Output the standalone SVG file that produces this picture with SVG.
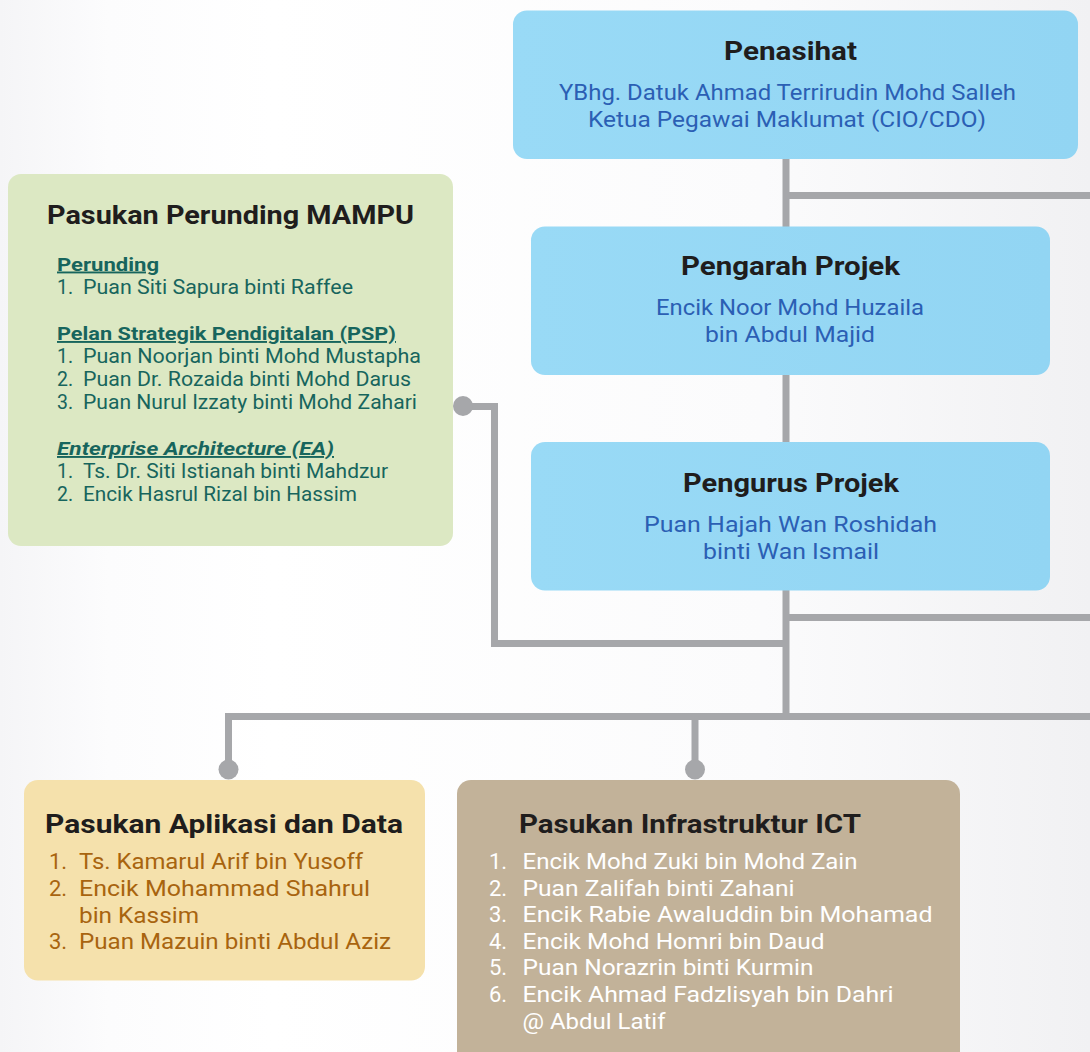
<svg xmlns="http://www.w3.org/2000/svg" width="1090" height="1052" viewBox="0 0 1090 1052">
  <defs>
    <linearGradient id="bg" x1="0" y1="0" x2="1" y2="0">
      <stop offset="0" stop-color="#f5f5f7"/>
      <stop offset="0.1" stop-color="#fcfcfd"/>
      <stop offset="0.25" stop-color="#ffffff"/>
      <stop offset="0.7" stop-color="#fbfbfc"/>
      <stop offset="1" stop-color="#f1f1f3"/>
    </linearGradient>
    <linearGradient id="blue" x1="0" y1="0" x2="1" y2="0">
      <stop offset="0" stop-color="#99daf6"/>
      <stop offset="1" stop-color="#92d5f3"/>
    </linearGradient>
  </defs>
  <style>
    text { font-family: Roboto, "Open Sans", "Liberation Sans", sans-serif; }
    .title { font-size: 26px; font-weight: 700; fill: #1f1d1d; }
    .blueTxt { font-size: 22px; fill: #2b5fb4; }
    .gHead { font-size: 19px; font-weight: 700; fill: #17655d; text-decoration: underline; }
    .gItem { font-size: 19.5px; fill: #17655d; }
    .yItem { font-size: 22px; fill: #a8640f; }
    .bItem { font-size: 22px; fill: #ffffff; }
    .conn { fill: none; stroke: #a6a7aa; stroke-width: 7; }
    .dot { fill: #a6a7aa; }
  </style>
  <rect x="0" y="0" width="1090" height="1052" fill="url(#bg)"/>

  <g id="connectors">
    <path class="conn" d="M786 158 V716"/>
    <path class="conn" d="M786 195.5 H1090"/>
    <path class="conn" d="M786 617.5 H1090"/>
    <path class="conn" d="M463 406.5 H494.5 V643.5 H786"/>
    <path class="conn" d="M228.5 769 V716.5 H1090"/>
    <path class="conn" d="M695 716.5 V769"/>
    <circle class="dot" cx="463" cy="406" r="10"/>
    <circle class="dot" cx="228.5" cy="769.5" r="10"/>
    <circle class="dot" cx="695" cy="769.5" r="10"/>
  </g>

  <g id="penasihat">
    <rect x="513" y="10.5" width="565" height="148.5" rx="14" fill="url(#blue)"/>
    <text class="title" x="724" y="60" textLength="133" lengthAdjust="spacingAndGlyphs">Penasihat</text>
    <text class="blueTxt" x="559" y="99.5" textLength="457" lengthAdjust="spacingAndGlyphs">YBhg. Datuk Ahmad Terrirudin Mohd Salleh</text>
    <text class="blueTxt" x="588" y="126.5" textLength="398" lengthAdjust="spacingAndGlyphs">Ketua Pegawai Maklumat (CIO/CDO)</text>
  </g>

  <g id="pengarah">
    <rect x="531" y="226.5" width="519" height="148.5" rx="14" fill="url(#blue)"/>
    <text class="title" x="681" y="275" textLength="219" lengthAdjust="spacingAndGlyphs">Pengarah Projek</text>
    <text class="blueTxt" x="656" y="315" textLength="268" lengthAdjust="spacingAndGlyphs">Encik Noor Mohd Huzaila</text>
    <text class="blueTxt" x="705" y="341.5" textLength="170" lengthAdjust="spacingAndGlyphs">bin Abdul Majid</text>
  </g>

  <g id="pengurus">
    <rect x="531" y="442" width="519" height="148.5" rx="14" fill="url(#blue)"/>
    <text class="title" x="683" y="491.5" textLength="216" lengthAdjust="spacingAndGlyphs">Pengurus Projek</text>
    <text class="blueTxt" x="644" y="532" textLength="293" lengthAdjust="spacingAndGlyphs">Puan Hajah Wan Roshidah</text>
    <text class="blueTxt" x="703" y="558.5" textLength="176" lengthAdjust="spacingAndGlyphs">binti Wan Ismail</text>
  </g>

  <g id="perunding">
    <rect x="8" y="174" width="445" height="372" rx="13" fill="#dce8c3"/>
    <text class="title" x="47" y="224" textLength="367" lengthAdjust="spacingAndGlyphs">Pasukan Perunding MAMPU</text>
    <text class="gHead" x="57" y="270.5" textLength="102" lengthAdjust="spacingAndGlyphs">Perunding</text>
    <text class="gItem" x="57" y="294">1.</text>
    <text class="gItem" x="83" y="294" textLength="270" lengthAdjust="spacingAndGlyphs">Puan Siti Sapura binti Raffee</text>
    <text class="gHead" x="57" y="340" textLength="339" lengthAdjust="spacingAndGlyphs">Pelan Strategik Pendigitalan (PSP)</text>
    <text class="gItem" x="57" y="363">1.</text>
    <text class="gItem" x="83" y="363" textLength="338" lengthAdjust="spacingAndGlyphs">Puan Noorjan binti Mohd Mustapha</text>
    <text class="gItem" x="57" y="386">2.</text>
    <text class="gItem" x="83" y="386" textLength="328" lengthAdjust="spacingAndGlyphs">Puan Dr. Rozaida binti Mohd Darus</text>
    <text class="gItem" x="57" y="409">3.</text>
    <text class="gItem" x="83" y="409" textLength="334" lengthAdjust="spacingAndGlyphs">Puan Nurul Izzaty binti Mohd Zahari</text>
    <text class="gHead" x="57" y="455" font-style="italic" textLength="277" lengthAdjust="spacingAndGlyphs">Enterprise Architecture (EA)</text>
    <text class="gItem" x="57" y="478">1.</text>
    <text class="gItem" x="83" y="478" textLength="305" lengthAdjust="spacingAndGlyphs">Ts. Dr. Siti Istianah binti Mahdzur</text>
    <text class="gItem" x="57" y="501">2.</text>
    <text class="gItem" x="83" y="501" textLength="274" lengthAdjust="spacingAndGlyphs">Encik Hasrul Rizal bin Hassim</text>
  </g>

  <g id="aplikasi">
    <rect x="24" y="780" width="401" height="200.5" rx="14" fill="#f5e1ac"/>
    <text class="title" x="45" y="833" textLength="358" lengthAdjust="spacingAndGlyphs">Pasukan Aplikasi dan Data</text>
    <text class="yItem" x="49" y="869">1.</text>
    <text class="yItem" x="79" y="869" textLength="284" lengthAdjust="spacingAndGlyphs">Ts. Kamarul Arif bin Yusoff</text>
    <text class="yItem" x="49" y="895.5">2.</text>
    <text class="yItem" x="79" y="895.5" textLength="291" lengthAdjust="spacingAndGlyphs">Encik Mohammad Shahrul</text>
    <text class="yItem" x="79" y="922.5" textLength="120" lengthAdjust="spacingAndGlyphs">bin Kassim</text>
    <text class="yItem" x="49" y="949">3.</text>
    <text class="yItem" x="79" y="949" textLength="312" lengthAdjust="spacingAndGlyphs">Puan Mazuin binti Abdul Aziz</text>
  </g>

  <g id="infrastruktur">
    <rect x="457" y="780" width="503" height="290" rx="14" fill="#c2b299"/>
    <text class="title" x="519" y="833" textLength="342" lengthAdjust="spacingAndGlyphs">Pasukan Infrastruktur ICT</text>
    <text class="bItem" x="489" y="869">1.</text>
    <text class="bItem" x="522.5" y="869" textLength="335" lengthAdjust="spacingAndGlyphs">Encik Mohd Zuki bin Mohd Zain</text>
    <text class="bItem" x="489" y="895.5">2.</text>
    <text class="bItem" x="522.5" y="895.5" textLength="272" lengthAdjust="spacingAndGlyphs">Puan Zalifah binti Zahani</text>
    <text class="bItem" x="489" y="922">3.</text>
    <text class="bItem" x="522.5" y="922" textLength="410" lengthAdjust="spacingAndGlyphs">Encik Rabie Awaluddin bin Mohamad</text>
    <text class="bItem" x="489" y="948.5">4.</text>
    <text class="bItem" x="522.5" y="948.5" textLength="302" lengthAdjust="spacingAndGlyphs">Encik Mohd Homri bin Daud</text>
    <text class="bItem" x="489" y="975">5.</text>
    <text class="bItem" x="522.5" y="975" textLength="291" lengthAdjust="spacingAndGlyphs">Puan Norazrin binti Kurmin</text>
    <text class="bItem" x="489" y="1001.5">6.</text>
    <text class="bItem" x="522.5" y="1001.5" textLength="371" lengthAdjust="spacingAndGlyphs">Encik Ahmad Fadzlisyah bin Dahri</text>
    <text class="bItem" x="522.5" y="1028.5" textLength="143" lengthAdjust="spacingAndGlyphs">@ Abdul Latif</text>
  </g>
</svg>
